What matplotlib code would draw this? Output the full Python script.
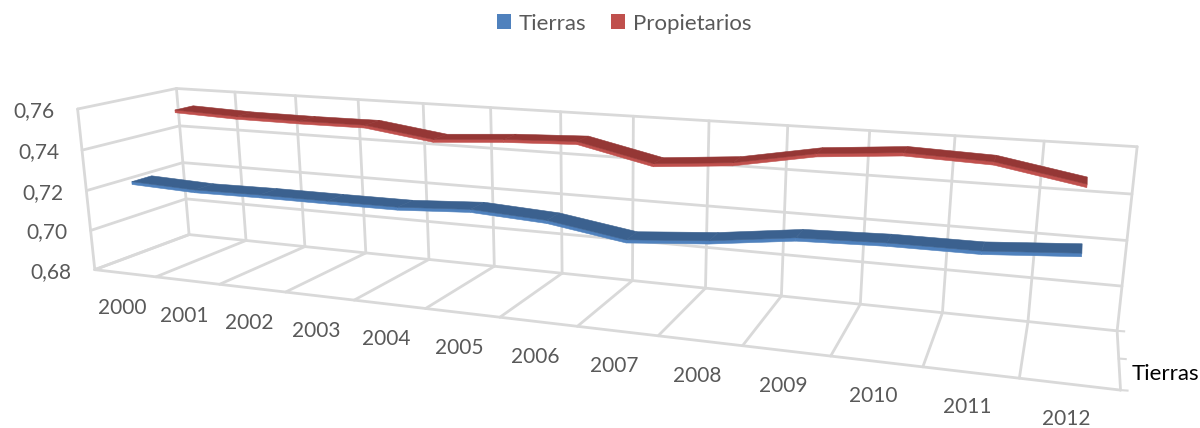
import numpy as np
import matplotlib
matplotlib.use("Agg")
import matplotlib.pyplot as plt
from matplotlib.patches import Patch, Polygon

plt.rcParams['font.family'] = ['Lato', 'DejaVu Sans']

years = [2000, 2001, 2002, 2003, 2004, 2005, 2006, 2007, 2008, 2009, 2010, 2011, 2012]
tierras = [0.7236, 0.7223, 0.7227, 0.7227, 0.7228, 0.7248, 0.7229, 0.7175, 0.7204, 0.7250, 0.7262, 0.7263, 0.7289]
propietarios = [0.7534, 0.7522, 0.7520, 0.7522, 0.7476, 0.7499, 0.7513, 0.7436, 0.7466, 0.7531, 0.7560, 0.7547, 0.7481]
value_ticks = [0.68, 0.70, 0.72, 0.74, 0.76]

GRID = '#D9D9D9'
TEXT = '#595959'
VMIN, VMAX = 0.68, 0.76

# camera of the 3D chart, fitted to where the box corners sit in the picture
# (category edge, value 0-1, depth 0-1, pixel x, pixel y)
refs = [(0, 0, 0, 95, 270), (0, 1, 0, 77, 109), (0, 0, 1, 189, 234), (0, 1, 1, 177, 89),
        (13, 1, 1, 1137, 146), (13, 0, 1, 1117, 331), (13, 0, 0, 1120, 391),
        (5, 0, 0, 426, 308), (4, 0, 1, 428, 259), (4, 1, 1, 423, 104),
        (9, 0, 0, 743, 345), (9, 0, 1, 782, 297), (9, 1, 1, 788, 125)]
rows = []
for u, t, d, px, py in refs:
    X = [u, t, d, 1]
    rows.append(X + [0, 0, 0, 0] + [-px * a for a in X])
    rows.append([0, 0, 0, 0] + X + [-py * a for a in X])
P = np.linalg.svd(np.array(rows, float))[2][-1].reshape(3, 4)


def proj(u, v, d):
    h = P @ np.array([u, (v - VMIN) / (VMAX - VMIN), d, 1.0])
    return h[:2] / h[2]


def line3d(ax, a, b):
    pa, pb = proj(*a), proj(*b)
    ax.plot([pa[0], pb[0]], [pa[1], pb[1]], color=GRID, lw=2.0, solid_capstyle='round', zorder=1)


def ribbon(ax, values, depth, dark, light, zorder):
    width = 0.1
    drop = 0.0014
    d1, d2 = depth - width, depth + width
    for i in range(len(values) - 1):
        u0, u1 = i + 0.5, i + 1.5
        v0, v1 = values[i], values[i + 1]
        side = [proj(u0, v0, d1), proj(u1, v1, d1), proj(u1, v1 - drop, d1), proj(u0, v0 - drop, d1)]
        top = [proj(u0, v0, d1), proj(u1, v1, d1), proj(u1, v1, d2), proj(u0, v0, d2)]
        ax.add_patch(Polygon(side, closed=True, fc=light, ec=light, lw=0.4, zorder=zorder))
        ax.add_patch(Polygon(top, closed=True, fc=dark, ec=dark, lw=0.4, zorder=zorder + 0.1))


fig = plt.figure(figsize=(12, 4.28), dpi=100)
ax = fig.add_axes([0, 0, 1, 1])
ax.set_xlim(0, 1200)
ax.set_ylim(428, 0)
ax.axis('off')

# walls and floor
for v in value_ticks:
    line3d(ax, (0, v, 0), (0, v, 1))
    line3d(ax, (0, v, 1), (13, v, 1))
for u in range(14):
    line3d(ax, (u, VMIN, 0), (u, VMIN, 1))
    line3d(ax, (u, VMIN, 1), (u, VMAX, 1))
line3d(ax, (0, VMIN, 0), (13, VMIN, 0))
line3d(ax, (0, VMIN, 0), (0, VMAX, 0))

# depth axis ticks on the right
for d in (0, 0.5, 1):
    px, py = proj(13, VMIN, d)
    ax.plot([px, px + 7], [py, py + 0.5], color=GRID, lw=1.5, zorder=1)

ribbon(ax, propietarios, 0.75, '#953735', '#C0504D', 2)
ribbon(ax, tierras, 0.25, '#3B618F', '#4F81BD', 3)

for v in value_ticks:
    px, py = proj(0, v, 0)
    ax.text(px - 23, py + 2, f'{v:.2f}'.replace('.', ','), ha='right', va='center',
            color=TEXT, fontsize=15)
for i, year in enumerate(years):
    px, py = proj(i + 0.5, VMIN, 0)
    ax.text(px - 3, py + 35, str(year), ha='center', va='center', color=TEXT, fontsize=15)

ax.text(1132, 374, 'Tierras', ha='left', va='center', color='black', fontsize=16)

handles = [Patch(fc='#4F81BD', label='Tierras'), Patch(fc='#C0504D', label='Propietarios')]
ax.legend(handles=handles, ncol=2, frameon=False, loc='upper center', bbox_to_anchor=(0.52, 1.015),
          fontsize=16, labelcolor=TEXT, handlelength=0.63, handleheight=0.63,
          handletextpad=0.35, columnspacing=1.1)

fig.savefig('out.png', dpi=100)
